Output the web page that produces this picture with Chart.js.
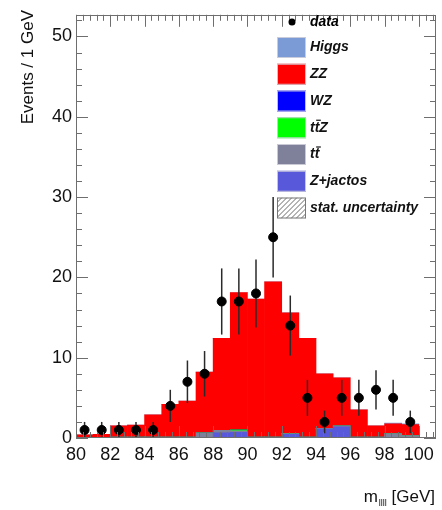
<!DOCTYPE html>
<html>
<head>
<meta charset="utf-8">
<script src="https://cdn.jsdelivr.net/npm/chart.js@4.4.0/dist/chart.umd.min.js"></script>
<style>
  html, body { margin: 0; padding: 0; background: #fff; }
  #wrap { width: 442px; height: 510px; position: relative; }
</style>
</head>
<body>
<div id="wrap"><canvas id="c"></canvas></div>
<script>
// ── Data (1 GeV bins, 80–100 GeV) ────────────────────────────────────────────
const binCenters = [80.5, 81.5, 82.5, 83.5, 84.5, 85.5, 86.5, 87.5, 88.5, 89.5,
                    90.5, 91.5, 92.5, 93.5, 94.5, 95.5, 96.5, 97.5, 98.5, 99.5];
const dataCounts = [1, 1, 1, 1, 1, 4, 7, 8, 17, 17, 18, 25, 14, 5, 2, 5, 5, 6, 5, 2];
const dataErrors = [1, 1, 1, 1, 1, 2, 2.65, 2.83, 4.12, 4.12, 4.24, 5, 3.74, 2.24, 1.41, 2.24, 2.24, 2.45, 2.24, 1.41];

// stack, bottom to top
const zjets = [0, 0, 0, 0, 0, 0, 0, 0, 0.65, 0.7, 0, 0, 0.45, 0, 1.1, 1.4, 0, 0, 0, 0];
const ttbar = [0, 0, 0.1, 0.1, 0.1, 0.1, 0.1, 0.65, 0.3, 0.2, 0.1, 0.1, 0.1, 0.1, 0.1, 0.1, 0.1, 0.1, 0.55, 0.3];
const ttz   = [0, 0, 0, 0, 0, 0, 0, 0, 0, 0.12, 0, 0, 0, 0, 0, 0, 0, 0, 0, 0];
const wz    = [0, 0, 0, 0, 0, 0, 0, 0, 0, 0, 0, 0, 0, 0, 0, 0, 0, 0, 0, 0];
const zz    = [0.4, 0.45, 1.4, 1.5, 2.8, 4.1, 4.5, 7.55, 11.45, 17.1, 17.2, 19.35, 15.05, 12.3, 6.8, 6.0, 3.4, 1.4, 1.22, 1.37];
const higgs = [0, 0, 0, 0, 0, 0, 0, 0, 0, 0, 0, 0, 0, 0, 0, 0, 0, 0, 0.08, 0.08];

const xTicks = [80, 82, 84, 86, 88, 90, 92, 94, 96, 98, 100];
const yTicks = [0, 10, 20, 30, 40, 50];
const X_MIN = 80, X_MAX = 101, Y_MAX = 52.7;

// ── Styles ───────────────────────────────────────────────────────────────────
const COL = {
  higgs: '#7b9bd6', zz: '#ff0000', wz: '#0000ff', ttz: '#00ff00',
  ttbar: '#7f8099', zjets: '#5858da'
};
const FONT = "'Liberation Sans', Arial, Helvetica, sans-serif";
const AXIS_COL = '#6e6e6e';

Chart.defaults.font.family = FONT;
Chart.defaults.color = '#111';

const pts = arr => arr.map((v, i) => ({ x: binCenters[i], y: v }));

function barSet(label, arr, color) {
  return {
    type: 'bar', label, data: pts(arr), yAxisID: 'y',
    backgroundColor: color, borderWidth: 0,
    barPercentage: 1, categoryPercentage: 1, order: 1,
  };
}

// ── Plugin: error bars, frame, inward ticks, titles, legend ──────────────────
const rootStyle = {
  id: 'rootStyle',
  beforeDatasetDraw(chart, args) {
    if (args.index !== 0) return;
    const ctx = chart.ctx, xs = chart.scales.x, ys = chart.scales.y2;
    ctx.save();
    ctx.strokeStyle = '#2a2a2a';
    ctx.lineWidth = 1.5;
    binCenters.forEach((c, i) => {
      const px = xs.getPixelForValue(c);
      const lo = Math.max(0, dataCounts[i] - dataErrors[i]);
      const hi = dataCounts[i] + dataErrors[i];
      ctx.beginPath();
      ctx.moveTo(px, ys.getPixelForValue(lo));
      ctx.lineTo(px, ys.getPixelForValue(hi));
      ctx.stroke();
    });
    ctx.restore();
  },
  afterDraw(chart) {
    const ctx = chart.ctx, a = chart.chartArea;
    const xs = chart.scales.x, ys = chart.scales.y;
    ctx.save();

    // frame
    ctx.strokeStyle = AXIS_COL;
    ctx.lineWidth = 1;
    ctx.strokeRect(Math.round(a.left) + 0.5, Math.round(a.top) + 0.5,
                   Math.round(a.right - a.left) - 1, Math.round(a.bottom - a.top) - 1);

    // x ticks (bottom + top), pointing inward
    ctx.beginPath();
    for (let k = 0; k <= 52; k++) {
      const v = X_MIN + k * 0.4;
      if (v > X_MAX + 1e-6) break;
      const major = Math.abs(v / 2 - Math.round(v / 2)) < 1e-6;
      const len = major ? 12 : 6;
      const px = Math.round(xs.getPixelForValue(v)) + 0.5;
      ctx.moveTo(px, a.bottom); ctx.lineTo(px, a.bottom - len);
      ctx.moveTo(px, a.top);    ctx.lineTo(px, a.top + len);
    }
    // y ticks (left + right)
    for (let v = 0; v <= Y_MAX; v += 2) {
      const len = v % 10 === 0 ? 12 : 6;
      const py = Math.round(ys.getPixelForValue(v)) + 0.5;
      ctx.moveTo(a.left, py);  ctx.lineTo(a.left + len, py);
      ctx.moveTo(a.right, py); ctx.lineTo(a.right - len, py);
    }
    ctx.stroke();

    // y title
    ctx.fillStyle = '#111';
    ctx.font = '17px ' + FONT;
    ctx.save();
    ctx.translate(33, 10);
    ctx.rotate(-Math.PI / 2);
    ctx.textAlign = 'right';
    ctx.textBaseline = 'alphabetic';
    ctx.fillText('Events / 1 GeV', 0, 0);
    ctx.restore();

    // x title: m_llll [GeV], right aligned
    ctx.textBaseline = 'alphabetic';
    ctx.textAlign = 'left';
    const main = '17px ' + FONT, sub = '9px ' + FONT;
    ctx.font = main;
    const wGeV = ctx.measureText(' [GeV]').width;
    const wM = ctx.measureText('m').width;
    ctx.font = sub;
    const wSub = ctx.measureText('llll').width;
    let x0 = 435 - wGeV - wSub - wM - 1;
    ctx.font = main;
    ctx.fillText('m', x0, 502);
    ctx.font = sub;
    ctx.fillText('llll', x0 + wM + 1, 506);
    ctx.font = main;
    ctx.fillText(' [GeV]', x0 + wM + 1 + wSub, 502);

    // legend
    const lx = 277, bw = 29, bh = 21, tx = 310;
    ctx.font = 'italic bold 14px ' + FONT;
    ctx.textBaseline = 'middle';
    ctx.textAlign = 'left';
    // data
    ctx.fillStyle = '#000';
    ctx.beginPath(); ctx.arc(292, 22, 3.5, 0, Math.PI * 2); ctx.fill();
    ctx.fillText('data', tx, 22);

    const rows = [
      ['Higgs', COL.higgs], ['ZZ', COL.zz], ['WZ', COL.wz],
      ['ttZ', COL.ttz], ['tt', COL.ttbar], ['Z+jactos', COL.zjets]
    ];
    rows.forEach(([name, col], i) => {
      const cy = 47.5 + i * 26.75;
      ctx.fillStyle = col;
      ctx.fillRect(lx, cy - bh / 2, bw, bh);
      ctx.strokeStyle = 'rgba(210,210,220,0.9)';
      ctx.strokeRect(lx + 0.5, cy - bh / 2 + 0.5, bw - 1, bh - 1);
      ctx.fillStyle = '#111';
      ctx.fillText(name, tx, cy);
      if (name === 'ttZ' || name === 'tt') {
        const wt = ctx.measureText('t').width;
        ctx.strokeStyle = '#111';
        ctx.lineWidth = 1.2;
        ctx.beginPath();
        ctx.moveTo(tx + wt + 1.5, cy - 7.5);
        ctx.lineTo(tx + 2 * wt + 1.5, cy - 7.5);
        ctx.stroke();
        ctx.lineWidth = 1;
      }
    });
    // stat. uncertainty (hatched)
    const sy = 47.5 + 6 * 26.75;
    ctx.save();
    ctx.fillStyle = '#fff';
    ctx.fillRect(lx, sy - bh / 2, bw, bh);
    ctx.beginPath();
    ctx.rect(lx, sy - bh / 2, bw, bh);
    ctx.clip();
    ctx.strokeStyle = '#444';
    ctx.lineWidth = 0.8;
    ctx.beginPath();
    for (let d = -bh; d < bw + bh; d += 5) {
      ctx.moveTo(lx + d, sy + bh / 2);
      ctx.lineTo(lx + d + bh, sy - bh / 2);
    }
    ctx.stroke();
    ctx.restore();
    ctx.strokeStyle = '#777';
    ctx.strokeRect(lx + 0.5, sy - bh / 2 + 0.5, bw - 1, bh - 1);
    ctx.fillStyle = '#111';
    ctx.fillText('stat. uncertainty', tx, sy);

    ctx.restore();
  }
};

// ── Chart ────────────────────────────────────────────────────────────────────
new Chart(document.getElementById('c'), {
  data: {
    datasets: [
      {
        type: 'scatter', label: 'data', data: pts(dataCounts), yAxisID: 'y2',
        pointRadius: 4.5, pointHoverRadius: 4.5,
        pointBackgroundColor: '#000', pointBorderColor: '#000', order: -1,
      },
      barSet('Z+jactos', zjets, COL.zjets),
      barSet('tt', ttbar, COL.ttbar),
      barSet('ttZ', ttz, COL.ttz),
      barSet('WZ', wz, COL.wz),
      barSet('ZZ', zz, COL.zz),
      barSet('Higgs', higgs, COL.higgs),
    ]
  },
  options: {
    responsive: true,
    maintainAspectRatio: false,
    animation: false,
    layout: { padding: { left: 0, top: 4, right: 6, bottom: 0 } },
    scales: {
      x: {
        type: 'linear', min: X_MIN, max: X_MAX, stacked: true, offset: false,
        grid: { display: false, drawTicks: false }, border: { display: false },
        afterBuildTicks: s => { s.ticks = xTicks.map(v => ({ value: v })); },
        afterFit: s => { s.height = 72; },
        ticks: { font: { size: 18 }, color: '#111', padding: 6, maxRotation: 0, autoSkip: false },
      },
      y: {
        min: 0, max: Y_MAX, stacked: true,
        grid: { display: false, drawTicks: false }, border: { display: false },
        afterBuildTicks: s => { s.ticks = yTicks.map(v => ({ value: v })); },
        afterFit: s => { s.width = 76; },
        ticks: { font: { size: 18 }, color: '#111', padding: 4 },
      },
      y2: { min: 0, max: Y_MAX, display: false },
    },
    plugins: { legend: { display: false }, tooltip: { enabled: false } }
  },
  plugins: [rootStyle]
});
</script>
</body>
</html>
